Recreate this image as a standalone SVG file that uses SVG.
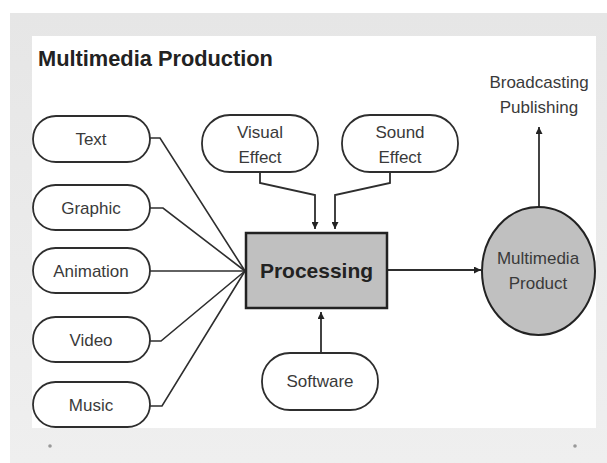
<svg xmlns="http://www.w3.org/2000/svg" width="607" height="463" viewBox="0 0 607 463">
<defs>
<marker id="ah" viewBox="0 0 10 10" refX="10" refY="5" markerWidth="7" markerHeight="7" orient="auto" markerUnits="userSpaceOnUse">
<path d="M0,0 L10,5 L0,10 z" fill="#222"/>
</marker>
<linearGradient id="frame" x1="0" y1="0" x2="0" y2="1">
<stop offset="0" stop-color="#e6e6e6"/>
<stop offset="1" stop-color="#efefef"/>
</linearGradient>
<style>
.pill{fill:#fff;stroke:#2e2e2e;stroke-width:1.8}
.lbl{font-family:"Liberation Sans",Arial,sans-serif;font-size:17px;fill:#3a3a3a;text-anchor:middle}
.con{fill:none;stroke:#2e2e2e;stroke-width:1.6}
.arr{fill:none;stroke:#2e2e2e;stroke-width:1.8;marker-end:url(#ah)}
</style>
</defs>
<rect width="607" height="463" fill="#fff"/>
<rect x="10" y="13" width="597" height="450" fill="url(#frame)"/>
<rect x="32" y="36" width="564" height="392" fill="#fff"/>
<circle cx="50" cy="446" r="1.8" fill="#999"/>
<circle cx="575" cy="446" r="1.8" fill="#999"/>
<text x="38" y="66" font-family="'Liberation Sans',Arial,sans-serif" font-size="21.8" font-weight="bold" fill="#222">Multimedia Production</text>

<g id="connectors">
<path class="con" d="M150,138 L160,138 L245,271"/>
<path class="con" d="M150,208 L163,208 L245,271"/>
<path class="con" d="M150,271 L245,271"/>
<path class="con" d="M150,341 L161,341 L245,271"/>
<path class="con" d="M150,406 L162,406 L245,271"/>
<path class="arr" d="M260,172 L260,183 L315,195 L315,229"/>
<path class="arr" d="M390,172 L390,183 L335,195 L335,229"/>
<path class="arr" d="M321,353 L321,312"/>
<path class="arr" d="M388,270 L481,270"/>
<path class="arr" d="M539,207 L539,127"/>
</g>

<g id="text"><rect class="pill" x="33" y="116" width="117" height="46" rx="23"/><text class="lbl" x="91" y="145">Text</text></g>
<g id="graphic"><rect class="pill" x="33" y="185" width="117" height="45" rx="22.5"/><text class="lbl" x="91" y="214">Graphic</text></g>
<g id="animation"><rect class="pill" x="33" y="248" width="117" height="45" rx="22.5"/><text class="lbl" x="91" y="277">Animation</text></g>
<g id="video"><rect class="pill" x="33" y="317" width="117" height="45" rx="22.5"/><text class="lbl" x="91" y="346">Video</text></g>
<g id="music"><rect class="pill" x="33" y="382" width="117" height="45" rx="22.5"/><text class="lbl" x="91" y="411">Music</text></g>

<g id="visual-effect"><rect class="pill" x="202" y="115" width="116" height="57" rx="28"/><text class="lbl" x="260" y="138">Visual</text><text class="lbl" x="260" y="163">Effect</text></g>
<g id="sound-effect"><rect class="pill" x="342" y="115" width="116" height="57" rx="28"/><text class="lbl" x="400" y="138">Sound</text><text class="lbl" x="400" y="163">Effect</text></g>

<g id="processing"><rect x="246" y="233" width="141" height="75" fill="#c0c0c0" stroke="#222" stroke-width="2.5"/><text x="316.5" y="278" font-family="'Liberation Sans',Arial,sans-serif" font-size="21" font-weight="bold" fill="#222" text-anchor="middle">Processing</text></g>

<g id="software"><rect class="pill" x="262" y="353" width="116" height="57" rx="28"/><text class="lbl" x="320" y="387">Software</text></g>

<g id="multimedia-product"><ellipse cx="538.5" cy="271" rx="56.5" ry="64" fill="#c0c0c0" stroke="#222" stroke-width="2"/><text class="lbl" x="538" y="264">Multimedia</text><text class="lbl" x="538" y="289">Product</text></g>

<g id="broadcasting"><text class="lbl" x="539" y="88">Broadcasting</text><text class="lbl" x="539" y="113">Publishing</text></g>
</svg>
